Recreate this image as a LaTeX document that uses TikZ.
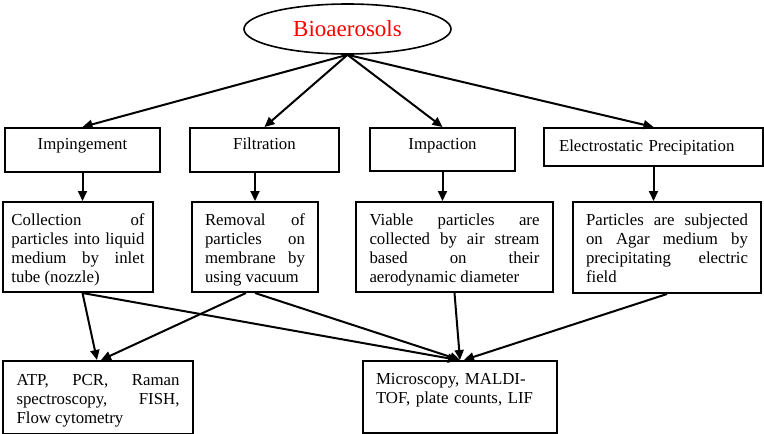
\documentclass[tikz,border=0pt]{standalone}
\usepackage{fontspec}
\setmainfont{Liberation Serif}
\usetikzlibrary{shapes.geometric,arrows.meta}
\tolerance=10000
\hbadness=10000
\hyphenpenalty=10000
\begin{document}
\begin{tikzpicture}[x=1pt,y=-1pt]
		\tikzstyle{every node}=[font=\fontsize{16.8}{19.3}\selectfont,inner sep=0pt];
		\tikzstyle{stage}=[draw,line width=2pt,anchor=north west];
		\tikzstyle{desc}=[stage,align=justify];
		\tikzstyle{link}=[line width=2pt,-{Triangle[length=10pt,width=9pt]}];
		\useasboundingbox (0,0) rectangle (764,434);
		% top
		\node[draw,ellipse,line width=1.6pt,minimum width=207pt,minimum height=50pt,text=red,font=\fontsize{23}{27}\selectfont] (bio) at (347.5,29) {Bioaerosols};
		% methods
		\node[stage,minimum width=155pt,text height=21.5pt,text depth=22.5pt] (imping) at (4,127) {Impingement};
		\node[stage,minimum width=149pt,text height=21.5pt,text depth=22.5pt] (filt) at (189,127) {Filtration};
		\node[stage,minimum width=145pt,text height=21.5pt,text depth=21.5pt] (impac) at (369,127) {Impaction};
		\node[stage,text width=189pt,inner xsep=15pt,align=left,text height=23.5pt,text depth=14.5pt] (elec) at (543,127) {Electrostatic Precipitation};
		% descriptions
		\node[desc,text width=133pt,inner xsep=8.5pt,text height=23pt,text depth=67pt] (coll) at (2,201) {Collection of\linebreak particles into liquid\linebreak medium by inlet\linebreak tube (nozzle)};
		\node[desc,text width=100pt,inner xsep=13pt,text height=23pt,text depth=67pt] (remov) at (191,201) {Removal of\linebreak particles on\linebreak membrane by\linebreak using vacuum};
		\node[desc,text width=170pt,inner xsep=13.5pt,text height=23pt,text depth=67pt] (viable) at (355,201) {Viable particles are\linebreak collected by air stream\linebreak based on their\linebreak aerodynamic diameter};
		\node[desc,text width=162pt,inner xsep=13pt,text height=23pt,text depth=68pt] (partic) at (572,201) {Particles are subjected\linebreak on Agar medium by\linebreak precipitating electric\linebreak field};
		% analysis
		\node[desc,text width=163pt,inner xsep=13.5pt,text height=24pt,text depth=49pt] (atp) at (2,360) {ATP, PCR, Raman\linebreak spectroscopy, FISH,\linebreak Flow cytometry};
		\node[stage,align=left,text width=168pt,inner xsep=13pt,text height=23pt,text depth=49pt] (micro) at (362,360) {Microscopy, MALDI-\\TOF, plate counts, LIF};
		\draw[link] (bio.south) -- (imping.north);
		\draw[link] (bio.south) -- (filt.north);
		\draw[link] (bio.south) -- (impac.north);
		\draw[link] (bio.south) -- (elec.north);
		\draw[link] (imping.south) -- (imping.south |- coll.north);
		\draw[link] (remov.north |- filt.south) -- (remov.north);
		\draw[link] (impac.south) -- (impac.south |- viable.north);
		\draw[link] (elec.south) -- (elec.south |- partic.north);
		\draw[link] (coll.south -| imping.south) -- ([xshift=-1pt]atp.north);
		\draw[link] (coll.south -| imping.south) -- ([xshift=-2pt]micro.north);
		\draw[link] ([xshift=-9pt]remov.south) -- ([xshift=3pt]atp.north);
		\draw[link] (remov.south) -- (micro.north);
		\draw[link] (viable.south) -- (micro.north);
		\draw[link] (partic.south) -- ([xshift=4pt]micro.north);
\end{tikzpicture}
\end{document}
